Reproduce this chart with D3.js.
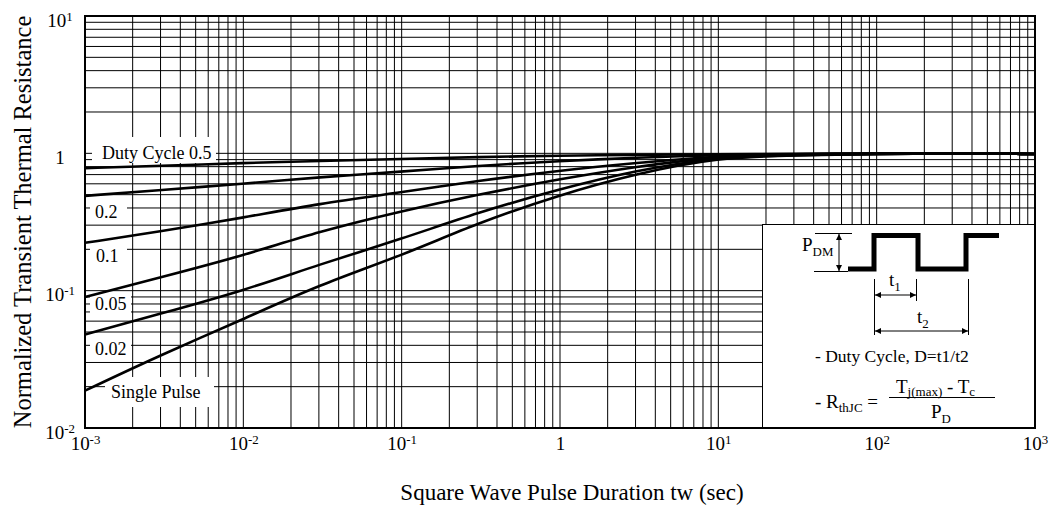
<!DOCTYPE html>
<html>
<head>
<meta charset="utf-8">
<script src="https://cdn.jsdelivr.net/npm/d3@7"></script>
<style>
  html, body { margin: 0; padding: 0; background: #fff; }
  svg { display: block; font-family: "Liberation Serif", "Times New Roman", serif; }
</style>
</head>
<body>
<svg id="chart" width="1055" height="508"></svg>
<script>
// Pulse durations (s) at which the curves are sampled
const pulseTimes = [1e-3, 3e-3, 1e-2, 3e-2, 1e-1, 3e-1, 1, 3, 10, 30, 100, 300, 1000];

// Normalized transient thermal resistance per duty cycle
const duty050  = [0.78,   0.81,  0.85,  0.88,  0.91,  0.94, 0.96, 0.975, 0.985, 0.99,  1.0,   1.0, 0.99];
const duty020  = [0.49,   0.54,  0.60,  0.67,  0.735, 0.81, 0.88, 0.93,  0.975, 0.985, 1.0,   1.0, 0.99];
const duty010  = [0.223,  0.27,  0.34,  0.43,  0.52,  0.63, 0.75, 0.85,  0.96,  0.98,  0.995, 1.0, 0.99];
const duty005  = [0.090,  0.125, 0.18,  0.27,  0.38,  0.50, 0.65, 0.80,  0.95,  0.975, 0.99,  1.0, 0.99];
const duty002  = [0.048,  0.068, 0.10,  0.155, 0.238, 0.37, 0.55, 0.75,  0.94,  0.97,  0.99,  1.0, 0.99];
const single   = [0.0187, 0.034, 0.062, 0.11,  0.18,  0.31, 0.50, 0.71,  0.935, 0.965, 0.99,  1.0, 0.99];

const seriesNames = ["Duty Cycle 0.5", "0.2", "0.1", "0.05", "0.02", "Single Pulse"];
const seriesValues = [duty050, duty020, duty010, duty005, duty002, single];

// Decade exponents used for the tick labels
const xTickExponents = [-3, -2, -1, 0, 1, 2, 3];
const yTickExponents = [-2, -1, 0, 1];

const xTitle = "Square Wave Pulse Duration tw (sec)";
const yTitle = "Normalized Transient Thermal Resistance";

// ---- layout ----
const margin = { left: 85, right: 20, top: 16, bottom: 80 };
const W = 1055, H = 508;
const svg = d3.select("#chart");

const x = d3.scaleLog().domain([1e-3, 1e3]).range([margin.left, W - margin.right]);
const y = d3.scaleLog().domain([1e-2, 1e1]).range([H - margin.bottom, margin.top]);

const [xLeft, xRight] = x.range();
const [yBottom, yTop] = y.range();

// ---- log grid ----
const xGridVals = [];
for (let e = -3; e < 3; e++) for (let k = 1; k <= 9; k++) xGridVals.push(k * Math.pow(10, e));
const yGridVals = [];
for (let e = -2; e < 1; e++) for (let k = 1; k <= 9; k++) yGridVals.push(k * Math.pow(10, e));

const grid = svg.append("g").attr("stroke", "#000").attr("stroke-width", 1);
grid.selectAll("line.v").data(xGridVals).join("line")
  .attr("class", "v")
  .attr("x1", d => x(d)).attr("x2", d => x(d))
  .attr("y1", yTop).attr("y2", yBottom);
grid.selectAll("line.h").data(yGridVals).join("line")
  .attr("class", "h")
  .attr("x1", xLeft).attr("x2", xRight)
  .attr("y1", d => y(d)).attr("y2", d => y(d));

// ---- series label boxes (white backing that interrupts the grid) ----
const labelLayout = [
  { box: [92, 137, 124, 26], tx: 102, ty: 159 },
  { box: [90, 200, 37, 23],  tx: 95,  ty: 218 },
  { box: [90, 246, 37, 22],  tx: 96,  ty: 262 },
  { box: [90, 293, 41, 23],  tx: 95,  ty: 310 },
  { box: [90, 337, 41, 23],  tx: 95,  ty: 355 },
  { box: [105, 377, 109, 30], tx: 111, ty: 398 }
];
const labels = svg.append("g");
seriesNames.forEach((name, i) => {
  const L = labelLayout[i];
  labels.append("rect")
    .attr("x", L.box[0]).attr("y", L.box[1])
    .attr("width", L.box[2]).attr("height", L.box[3])
    .attr("fill", "#fff");
  labels.append("text")
    .attr("x", L.tx).attr("y", L.ty)
    .attr("font-size", 18)
    .attr("fill", "#000")
    .text(name);
});

// ---- inset with pulse diagram and formulas ----
const inset = svg.append("g");
inset.append("rect")
  .attr("x", 762.5).attr("y", 224.5)
  .attr("width", xRight - 762.5).attr("height", yBottom - 224.5)
  .attr("fill", "#fff").attr("stroke", "#000").attr("stroke-width", 1);

const defs = svg.append("defs");
defs.append("marker")
  .attr("id", "arrow").attr("viewBox", "0 0 10 10")
  .attr("refX", 10).attr("refY", 5)
  .attr("markerWidth", 10).attr("markerHeight", 6)
  .attr("markerUnits", "userSpaceOnUse")
  .attr("orient", "auto-start-reverse")
  .append("path").attr("d", "M0,0 L10,5 L0,10 Z").attr("fill", "#000");

// square wave
inset.append("path")
  .attr("d", "M848,269 H874 V235.5 H918 V269 H966 V235.5 H999")
  .attr("fill", "none").attr("stroke", "#000").attr("stroke-width", 5)
  .attr("stroke-linejoin", "miter");

const thin = inset.append("g").attr("stroke", "#000").attr("stroke-width", 1).attr("fill", "none");
// P_DM extension lines and arrow
thin.append("line").attr("x1", 815).attr("x2", 852).attr("y1", 233.5).attr("y2", 233.5);
thin.append("line").attr("x1", 814).attr("x2", 848).attr("y1", 271.5).attr("y2", 271.5);
thin.append("line").attr("x1", 839).attr("x2", 839).attr("y1", 234).attr("y2", 271)
  .attr("marker-start", "url(#arrow)").attr("marker-end", "url(#arrow)");
// t1 / t2 extension lines
thin.append("line").attr("x1", 874.5).attr("x2", 874.5).attr("y1", 279).attr("y2", 335);
thin.append("line").attr("x1", 916.5).attr("x2", 916.5).attr("y1", 279).attr("y2", 301);
thin.append("line").attr("x1", 968.5).attr("x2", 968.5).attr("y1", 279).attr("y2", 335);
// t1 / t2 dimension arrows
thin.append("line").attr("x1", 875).attr("x2", 916).attr("y1", 295).attr("y2", 295)
  .attr("marker-start", "url(#arrow)").attr("marker-end", "url(#arrow)");
thin.append("line").attr("x1", 875).attr("x2", 968).attr("y1", 331).attr("y2", 331)
  .attr("marker-start", "url(#arrow)").attr("marker-end", "url(#arrow)");

function subText(g, xPos, yPos, main, sub, size) {
  const t = g.append("text").attr("x", xPos).attr("y", yPos)
    .attr("font-size", size).attr("fill", "#000");
  t.append("tspan").text(main);
  t.append("tspan").attr("font-size", size * 0.68).attr("dy", size * 0.25).text(sub);
  return t;
}

subText(inset, 802, 251, "P", "DM", 19);
subText(inset, 889, 286, "t", "1", 19);
subText(inset, 917, 323, "t", "2", 19);

inset.append("text").attr("x", 815).attr("y", 362).attr("font-size", 17.5)
  .attr("fill", "#000").text("- Duty Cycle, D=t1/t2");

// R_thJC formula
const f = inset.append("text").attr("x", 815).attr("y", 408).attr("font-size", 19).attr("fill", "#000");
f.append("tspan").text("- R");
f.append("tspan").attr("font-size", 13).attr("dy", 4).text("thJC");
f.append("tspan").attr("dy", -4).text(" =");
inset.append("line").attr("x1", 889).attr("x2", 995).attr("y1", 397.5).attr("y2", 397.5)
  .attr("stroke", "#000").attr("stroke-width", 1);
const num = inset.append("text").attr("x", 896).attr("y", 393).attr("font-size", 19).attr("fill", "#000");
num.append("tspan").text("T");
num.append("tspan").attr("font-size", 13).attr("dy", 3).text("j(max)");
num.append("tspan").attr("dy", -3).text(" - T");
num.append("tspan").attr("font-size", 13).attr("dy", 3).text("c");
subText(inset, 931, 418, "P", "D", 19);

// ---- curves ----
const line = d3.line()
  .x(d => x(d[0]))
  .y(d => y(d[1]))
  .curve(d3.curveBasis);
svg.append("g").selectAll("path").data(seriesValues).join("path")
  .attr("d", vals => line(pulseTimes.map((t, i) => [t, vals[i]])))
  .attr("fill", "none").attr("stroke", "#000").attr("stroke-width", 2.6)
  .attr("stroke-linejoin", "round");

// ---- frame ----
svg.append("rect")
  .attr("x", xLeft).attr("y", yTop)
  .attr("width", xRight - xLeft).attr("height", yBottom - yTop)
  .attr("fill", "none").attr("stroke", "#000").attr("stroke-width", 2);

// ---- axes ----
function powerLabel(textSel, e) {
  textSel.text(null);
  if (e === 0) { textSel.append("tspan").text("1"); return; }
  textSel.append("tspan").text("10");
  textSel.append("tspan").attr("font-size", "0.68em").attr("dy", "-0.45em").text(String(e));
}

const xAxis = d3.axisBottom(x)
  .tickValues(xTickExponents.map(e => Math.pow(10, e)))
  .tickSize(0).tickPadding(0).tickFormat(() => "");
const gx = svg.append("g").attr("transform", `translate(0,${yBottom})`).call(xAxis);
gx.select(".domain").remove();
gx.selectAll(".tick text")
  .attr("font-family", "Liberation Serif, serif")
  .attr("font-size", 19).attr("fill", "#000")
  .attr("dy", null).attr("y", 22)
  .each(function(d) { powerLabel(d3.select(this), Math.round(Math.log10(d))); });

const yAxis = d3.axisLeft(y)
  .tickValues(yTickExponents.map(e => Math.pow(10, e)))
  .tickSize(0).tickPadding(0).tickFormat(() => "");
const gy = svg.append("g").attr("transform", `translate(${xLeft},0)`).call(yAxis);
gy.select(".domain").remove();
gy.selectAll(".tick text")
  .attr("font-family", "Liberation Serif, serif")
  .attr("font-size", 19).attr("fill", "#000")
  .attr("text-anchor", "middle")
  .attr("x", -25).attr("dy", null).attr("y", 10)
  .each(function(d) { powerLabel(d3.select(this), Math.round(Math.log10(d))); });

// ---- axis titles ----
svg.append("text")
  .attr("x", (xLeft + xRight) / 2 + 12).attr("y", 500)
  .attr("text-anchor", "middle").attr("font-size", 23).attr("fill", "#000")
  .text(xTitle);
svg.append("text")
  .attr("transform", `translate(31,${(yBottom + yTop) / 2}) rotate(-90)`)
  .attr("text-anchor", "middle").attr("font-size", 24.5).attr("fill", "#000")
  .text(yTitle);
</script>
</body>
</html>
